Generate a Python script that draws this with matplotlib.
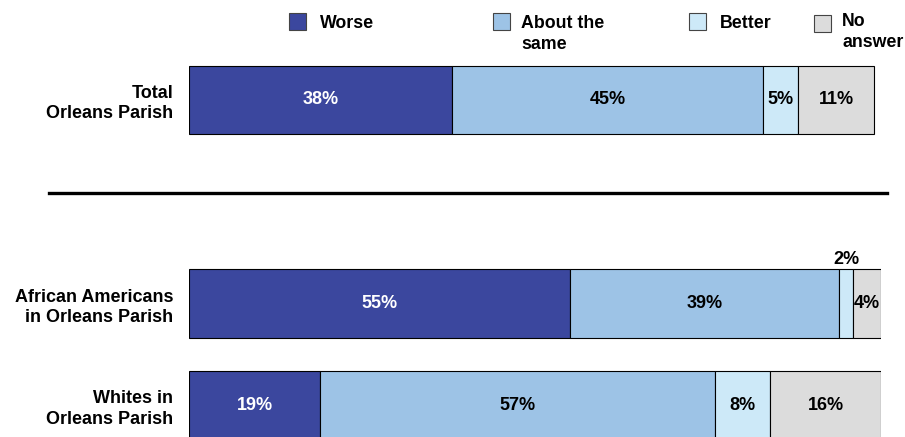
import numpy as np
import matplotlib
matplotlib.use('Agg')
import matplotlib.pyplot as plt
from matplotlib.patches import Rectangle
from matplotlib.lines import Line2D

### Data
groups = ['Total\nOrleans Parish', 'African Americans\nin Orleans Parish',
          'Whites in\nOrleans Parish']
answers = ['Worse', 'About the\nsame', 'Better', 'No\nanswer']
worse = [38, 55, 19]
same = [45, 39, 57]
better = [5, 2, 8]
noanswer = [11, 4, 16]

colors = ['#3B479E', '#9DC3E6', '#CDE9F8', '#DCDCDC']
textcolors = ['white', 'black', 'black', 'black']

plt.rcParams['font.family'] = ['Liberation Sans', 'DejaVu Sans']
plt.rcParams['font.weight'] = 'bold'
fs = 13

fig = plt.figure(figsize=(9.05, 4.37), dpi=100)
W, H = 905., 437.
ax = fig.add_axes([189/W, 0, 692/W, 1])

ypos = np.array([0, 2, 3])
series = [worse, same, better, noanswer]
left = np.zeros(3)
for vals, col, tcol in zip(series, colors, textcolors):
    vals = np.array(vals)
    ax.barh(ypos, vals, left=left, height=0.67, color=col,
            edgecolor='black', linewidth=0.8)
    for y, l, v in zip(ypos, left, vals):
        if v <= 2:
            # too narrow, put label above the bar
            ax.text(l + v/2, y - 0.43, '%d%%' % v, ha='center', va='center',
                    fontsize=fs, fontweight='bold', color='black')
        else:
            ax.text(l + v/2, y, '%d%%' % v, ha='center', va='center',
                    fontsize=fs, fontweight='bold', color=tcol)
    left = left + vals

ax.set_xlim(0, 100)
ax.set_ylim(3.31, -0.98)
ax.set_yticks(ypos)
ax.set_yticklabels(groups, fontsize=fs, fontweight='bold', linespacing=1.25)
ax.tick_params(axis='y', length=0, pad=11.5)
ax.set_xticks([])
for s in ax.spines.values():
    s.set_visible(False)

### Separator line
fig.add_artist(Line2D([49/W, 887/W], [1-192.5/H, 1-192.5/H], color='black',
                      linewidth=2.4))

### Legend (manual, pixel positions from the reference)
legx = [289, 493, 689, 814]
legbox = [13, 13, 13, 15]
legtx = [320, 521, 720, 842]
legty = [15, 15, 15, 13]
for x, by, tx, ty, lab, col in zip(legx, legbox, legtx, legty, answers, colors):
    fig.add_artist(Rectangle((x/W, 1-(by+17)/H), 17/W, 17/H, facecolor=col,
                             edgecolor='#444444', linewidth=0.8,
                             transform=fig.transFigure))
    fig.text(tx/W, 1-ty/H, lab, ha='left', va='top', fontsize=12.8,
             fontweight='bold', linespacing=1.3)

fig.savefig('out.png', dpi=100)
